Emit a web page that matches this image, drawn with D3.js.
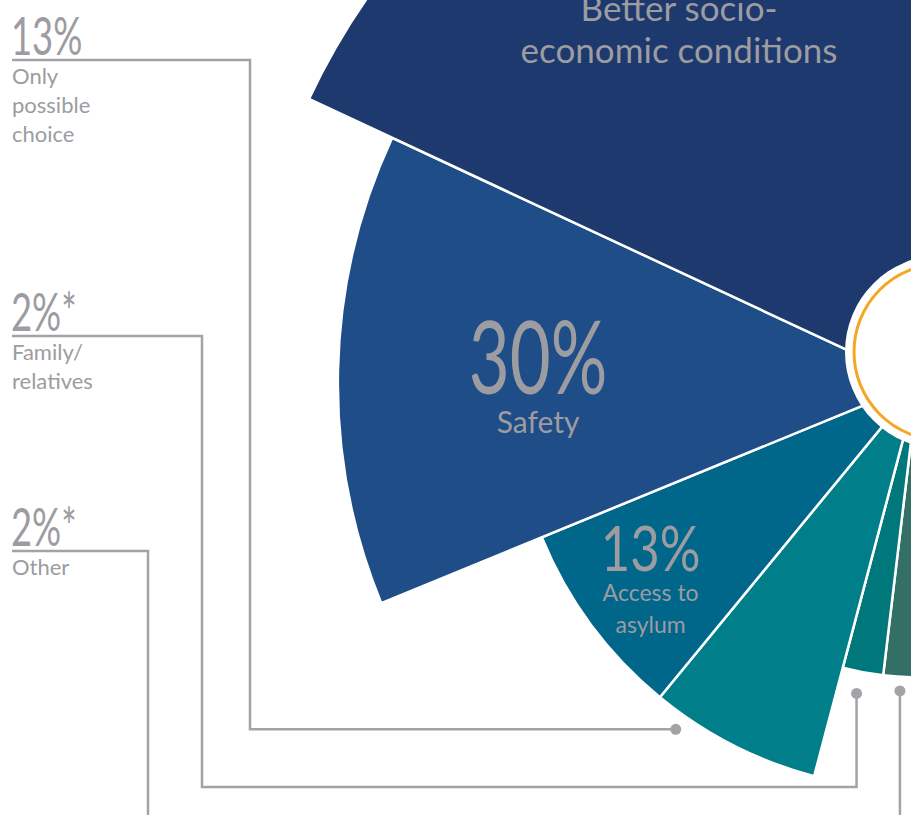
<!DOCTYPE html>
<html lang="en">
<meta charset="utf-8">
<script src="https://d3js.org/d3.v7.min.js"></script>
<style>
  body { margin: 0; background: #fff; }
  text { font-family: Lato, "Open Sans", sans-serif; fill: #9c9ca1; }
</style>
<svg id="base" width="911" height="815"></svg>

<script>
    // slices, clockwise from the bottom
    var categories = ["Other", "Family/relatives", "Only possible choice", "Access to asylum", "Safety", "Better socio-economic conditions"];
    var values = [2, 2, 13, 13, 30, 39];
    var pctLabels = ["2%*", "2%*", "13%", "13%", "30%", "39%"];
    // angular share of each slice
    var arcWeights = [8, 8, 24.6, 28.3, 47.3, 75];
    var colors = ["#346f66", "#00777a", "#007f8a", "#00668a", "#1f4d88", "#1d396d"];

    var svg = d3.select("#base");
    var cx = 918, cy = 383;
    var deg = Math.PI / 180;

    var radius = d3.scaleLinear()
        .domain([0, 39])
        .range([274, 672]);

    var pie = d3.pie()
        .sort(null)
        .value(function (d, i) { return arcWeights[i]; })
        .startAngle(178.8 * deg)
        .endAngle(370 * deg);

    var arcs = pie(values);

    var arc = d3.arc()
        .innerRadius(0)
        .outerRadius(function (d) { return radius(d.data); });

    function polar(a, r) {
        return [cx + r * Math.sin(a), cy - r * Math.cos(a)];
    }

    var g = svg.append("g");

    g.selectAll("path")
        .data(arcs)
        .enter()
        .append("path")
        .attr("transform", "translate(" + cx + "," + cy + ")")
        .attr("d", arc)
        .attr("fill", function (d, i) { return colors[i]; })
        .attr("stroke", "#fff")
        .attr("stroke-width", 2.5)
        .attr("stroke-linejoin", "miter");

    // centre disc
    svg.append("circle")
        .attr("cx", 942).attr("cy", 352).attr("r", 97)
        .attr("fill", "#fff");
    svg.append("circle")
        .attr("cx", 942).attr("cy", 352).attr("r", 88)
        .attr("fill", "none")
        .attr("stroke", "#f6a625")
        .attr("stroke-width", 3);

    // labels inside slices: angle fraction t, radius fraction k
    var inside = [
        { i: 5, t: 0.4, k: 0.62, size: 35, lines: ["Better socio-", "economic conditions"], pct: false },
        { i: 4, t: 0.5, k: 0.655, size: 101, sx: 0.7, sub: 30, lines: ["Safety"], pct: true },
        { i: 3, t: 0.61, k: 0.787, size: 62, sx: 0.82, sub: 23, lines: ["Access to", "asylum"], pct: true }
    ];

    inside.forEach(function (l) {
        var d = arcs[l.i];
        var p = polar(d.startAngle + l.t * (d.endAngle - d.startAngle), l.k * radius(d.data));
        var t = svg.append("g").attr("transform", "translate(" + p[0] + "," + p[1] + ")");
        if (l.pct) {
            t.append("text")
                .attr("text-anchor", "middle")
                .attr("transform", "translate(0," + (l.size * 0.2) + ") scale(" + l.sx + ",1)")
                .style("font-size", l.size + "px")
                .text(pctLabels[l.i]);
            l.lines.forEach(function (s, j) {
                t.append("text")
                    .attr("text-anchor", "middle")
                    .attr("y", l.size * 0.2 + l.sub * 1.3 + j * l.sub * 1.38)
                    .style("font-size", l.sub + "px")
                    .text(s);
            });
        } else {
            l.lines.forEach(function (s, j) {
                t.append("text")
                    .attr("text-anchor", "middle")
                    .attr("y", -21 + j * 42)
                    .style("font-size", l.size + "px")
                    .text(s);
            });
        }
    });

    // labels on the left with leader lines
    var outside = [
        { i: 2, y: 60, x: 250, yTurn: null, t: 0.82, off: 16, lines: ["Only", "possible", "choice"] },
        { i: 1, y: 336, x: 202, yTurn: 787, t: 0.55, off: 22, lines: ["Family/", "relatives"] },
        { i: 0, y: 551, x: 148, yTurn: 840, t: 0.57, off: 14, lines: ["Other"] }
    ];

    var grey = "#a3a3a7";

    outside.forEach(function (l) {
        var d = arcs[l.i];
        var dot = polar(d.startAngle + l.t * (d.endAngle - d.startAngle), radius(d.data) + l.off);
        var yTurn = l.yTurn === null ? dot[1] : l.yTurn;
        var pts = [[12, l.y], [l.x, l.y], [l.x, yTurn], [dot[0], yTurn], dot];

        svg.append("path")
            .attr("d", d3.line()(pts))
            .attr("fill", "none")
            .attr("stroke", grey)
            .attr("stroke-width", 2.5);
        svg.append("circle")
            .attr("cx", dot[0]).attr("cy", dot[1]).attr("r", 5.5)
            .attr("fill", grey);

        svg.append("text")
            .attr("transform", "translate(11," + (l.y - 5) + ") scale(0.7,1)")
            .style("font-size", "52px")
            .text(pctLabels[l.i]);
        l.lines.forEach(function (s, j) {
            svg.append("text")
                .attr("x", 12)
                .attr("y", l.y + 24 + j * 29)
                .style("font-size", "22px")
                .text(s);
        });
    });
</script>
</html>
